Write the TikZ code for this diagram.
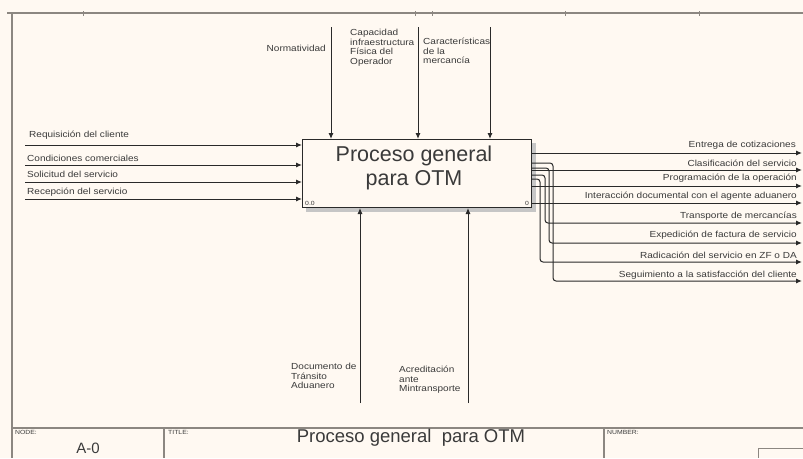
\documentclass[tikz,border=0pt]{standalone}
\usepackage{fontspec}
\setmainfont{Liberation Sans}
\newfontfamily\lblfont[FakeStretch=1.14]{Liberation Sans}
\usetikzlibrary{arrows.meta}
\definecolor{bgc}{HTML}{FFF9F2}
\definecolor{framec}{HTML}{8C8781}
\definecolor{linec}{HTML}{2A2A2A}
\definecolor{txtc}{HTML}{3A3A3A}
\tikzset{
  arr/.style={draw=linec, line width=1pt, -{Latex[length=6pt,width=5pt]}},
  lbl/.style={inner sep=0pt, text=txtc, font=\lblfont\fontsize{8.8}{9.6}\selectfont},
  mlbl/.style={lbl, align=left, anchor=north west},
  frm/.style={draw=framec, line width=1.3pt},
  tiny/.style={inner sep=0pt, text=txtc, font=\lblfont\fontsize{6}{7}\selectfont}
}
\begin{document}
\begin{tikzpicture}[x=1pt,y=-1pt]
\useasboundingbox (0,0) rectangle (803,458);
\fill[bgc] (0,0) rectangle (803,458);
% frame
\draw[frm] (7,13) -- (803,13);
\draw[frm] (12,13) -- (12,458);
\foreach \t [count=\k] in {83,415,432,565,699} {\coordinate (tk\k) at (\t,11); \draw[framec, line width=0.8pt] (tk\k) -- ++(0,5);}
% box with shadow
\fill[gray!45] (306,143) rectangle (536,212);
\node[draw=linec, line width=1pt, fill=bgc, minimum width=229pt, minimum height=68pt, inner sep=0pt, anchor=north west] (box) at (302,139) {};
\node[text=txtc, font=\fontsize{21.5}{24}\selectfont, align=center, inner sep=0pt] (boxtext) at (414,168) {Proceso general\\para OTM};
\node[tiny, anchor=south west] (cost) at ([xshift=3pt,yshift=2pt]box.south west) {0.0};
\node[tiny, anchor=south east] (num) at ([xshift=-3pt,yshift=2pt]box.south east) {0};
% inputs
\foreach \y/\n in {145/1,165/2,182/3,199/4} {\coordinate (i\n) at (25,\y);}
\foreach \n in {1,...,4} {\draw[arr] (i\n) -- (i\n -| box.west);}
\node[lbl, anchor=west] (li1) at (29,135) {Requisición del cliente};
\node[lbl, anchor=west] (li2) at (27,158) {Condiciones comerciales};
\node[lbl, anchor=west] (li3) at (27,174) {Solicitud del servicio};
\node[lbl, anchor=west] (li4) at (27,192) {Recepción del servicio};
% controls
\foreach \x/\n in {331/1,418/2,490/3} {\coordinate (c\n) at (\x,27);}
\foreach \n in {1,...,3} {\draw[arr] (c\n) -- (c\n |- box.north);}
\node[lbl, anchor=east] (lc1) at (326,48) {Normatividad};
\node[mlbl] (lc2) at (350,29) {Capacidad\\infraestructura\\Física del\\Operador};
\node[mlbl] (lc3) at (423,38) {Características\\de la\\mercancía};
% mechanisms
\foreach \x/\n in {360/1,468/2} {\coordinate (m\n) at (\x,403);}
\foreach \n in {1,2} {\draw[arr] (m\n) -- (m\n |- box.south);}
\node[mlbl] (lm1) at (291,363) {Documento de\\Tránsito\\Aduanero};
\node[mlbl] (lm2) at (399,366) {Acreditación\\ante\\Mintransporte};
% outputs
\foreach \y/\n in {153/1,170/2,186/3,203/4,223/5,243/6,262/7,281/8} {\coordinate (o\n) at (802,\y);}
\foreach \n in {1,...,4} {\draw[arr] (o\n -| box.east) -- (o\n);}
\draw[arr, rounded corners=3pt] ([yshift=-36pt]box.north east) -- ++(13,0) |- (o5);
\draw[arr, rounded corners=3pt] ([yshift=-29pt]box.north east) -- ++(17,0) |- (o6);
\draw[arr, rounded corners=3pt] ([yshift=-40pt]box.north east) -- ++(8,0) |- (o7);
\draw[arr, rounded corners=3pt] ([yshift=-24pt]box.north east) -- ++(21,0) |- (o8);
\node[lbl, anchor=east] (lo1) at (796,145) {Entrega de cotizaciones};
\node[lbl, anchor=east] (lo2) at (797,163) {Clasificación del servicio};
\node[lbl, anchor=east] (lo3) at (797,178) {Programación de la operación};
\node[lbl, anchor=east] (lo4) at (797,196) {Interacción documental con el agente aduanero};
\node[lbl, anchor=east] (lo5) at (797,216) {Transporte de mercancías};
\node[lbl, anchor=east] (lo6) at (797,235) {Expedición de factura de servicio};
\node[lbl, anchor=east] (lo7) at (797,255) {Radicación del servicio en ZF o DA};
\node[lbl, anchor=east] (lo8) at (797,275) {Seguimiento a la satisfacción del cliente};
% title block
\draw[frm] (12,428) -- (803,428);
\draw[frm] (164,428) -- (164,458);
\draw[frm] (604,428) -- (604,458);
\draw[framec, line width=0.8pt] (758,458) -- (758,448) -- (803,448);
\node[tiny, anchor=north west] (tnode) at (15,430) {NODE:};
\node[tiny, anchor=north west] (ttitle) at (168,430) {TITLE:};
\node[tiny, anchor=north west] (tnum) at (607,430) {NUMBER:};
\node[text=txtc, font=\fontsize{15}{17}\selectfont, inner sep=0pt] (a0) at (88,448) {A-0};
\node[text=txtc, font=\fontsize{18.5}{20}\selectfont, inner sep=0pt] (bt) at (411,438) {Proceso general\ \ para OTM};
\end{tikzpicture}
\end{document}
